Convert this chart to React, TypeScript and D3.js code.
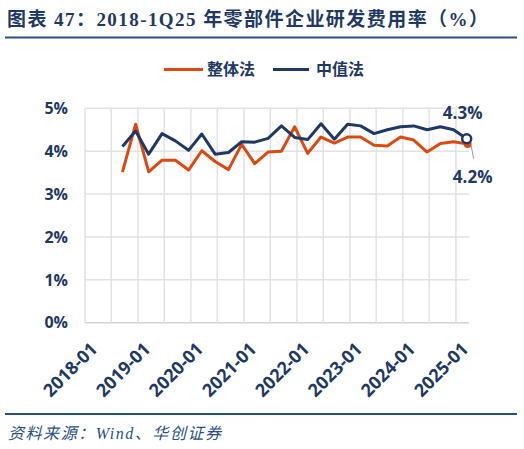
import React from 'react';
import * as d3 from 'd3';

// quarterly periods (month of quarter end)
const periods = [
  '2018-09', '2018-12',
  '2019-03', '2019-06', '2019-09', '2019-12',
  '2020-03', '2020-06', '2020-09', '2020-12',
  '2021-03', '2021-06', '2021-09', '2021-12',
  '2022-03', '2022-06', '2022-09', '2022-12',
  '2023-03', '2023-06', '2023-09', '2023-12',
  '2024-03', '2024-06', '2024-09', '2024-12',
  '2025-03',
];

// 整体法
const overall = [
  3.51, 4.63, 3.52, 3.79, 3.79, 3.56, 4.01, 3.76, 3.57, 4.16, 3.71, 3.98, 4.0, 4.57,
  3.95, 4.33, 4.19, 4.33, 4.33, 4.14, 4.12, 4.33, 4.26, 3.98, 4.18, 4.22, 4.17,
];

// 中值法
const median = [
  4.11, 4.47, 3.93, 4.41, 4.24, 4.02, 4.4, 3.93, 3.97, 4.22, 4.21, 4.3, 4.59, 4.32,
  4.27, 4.64, 4.28, 4.63, 4.59, 4.41, 4.5, 4.57, 4.59, 4.5, 4.57, 4.5, 4.29,
];

const yTicks = [0, 1, 2, 3, 4, 5];
const xLabels = ['2018-01', '2019-01', '2020-01', '2021-01', '2022-01', '2023-01', '2024-01', '2025-01'];

const W = 524;
const H = 449;
const NAVY = '#1f3864';
const ORANGE = '#dc4a12';
const GRID = '#e2e2e2';
const SANS = '"Open Sans", "Noto Sans CJK SC", sans-serif';
const CJK = '"Noto Sans CJK SC", sans-serif';

const parseMonth = d3.timeParse('%Y-%m');
// points sit in the middle of their month slot
const midMonth = (s: string) => {
  const d = parseMonth(s) as Date;
  return new Date(d.getFullYear(), d.getMonth(), 16);
};

const App: React.FC = () => {
  const margin = { left: 85, right: W - 469, top: 108.3, bottom: H - 322.7 };

  const x = d3
    .scaleTime()
    .domain([new Date(2018, 0, 1), new Date(2025, 3, 1)])
    .range([margin.left, W - margin.right]);

  const y = d3
    .scaleLinear()
    .domain([0, 5])
    .range([H - margin.bottom, margin.top]);

  const gridMonths = d3.timeMonth.every(6)!.range(new Date(2018, 0, 1), new Date(2025, 3, 1));

  const line = d3
    .line<number>()
    .x((_, i) => x(midMonth(periods[i])))
    .y(d => y(d));

  const lastX = x(midMonth(periods[periods.length - 1]));
  const lastMed = median[median.length - 1];
  const lastAll = overall[overall.length - 1];

  return (
    <div style={{ position: 'absolute', left: 0, top: 0 }}>
      <svg width={W} height={H} style={{ display: 'block', background: '#fff' }}>
        {/* Title */}
        <text
          x={7}
          y={26}
          fontFamily={'"Liberation Serif", "Noto Sans CJK SC", serif'}
          fontWeight="bold"
          fontSize={19}
          fill={NAVY}
          textLength={481}
          lengthAdjust="spacing"
        >
          图表 47：2018-1Q25 年零部件企业研发费用率（%）
        </text>
        <line x1={5} x2={517} y1={37.5} y2={37.5} stroke="#2a4f86" strokeWidth={2} />

        {/* Legend */}
        <g fontFamily={CJK} fontWeight="bold" fontSize={16} fill={NAVY}>
          <line x1={164} x2={203} y1={69.5} y2={69.5} stroke={ORANGE} strokeWidth={3} />
          <text x={207} y={69.5} dy="0.35em">整体法</text>
          <line x1={273} x2={309} y1={69.5} y2={69.5} stroke={NAVY} strokeWidth={3} />
          <text x={316} y={69.5} dy="0.35em">中值法</text>
        </g>

        {/* Grid */}
        {yTicks.map(t => (
          <line
            key={`h${t}`}
            x1={margin.left}
            x2={W - margin.right}
            y1={y(t)}
            y2={y(t)}
            stroke={t === 0 ? '#d4d4d4' : GRID}
            strokeWidth={1.5}
          />
        ))}
        {gridMonths.map((d, i) => (
          <line
            key={`v${i}`}
            x1={x(d)}
            x2={x(d)}
            y1={y(5)}
            y2={y(0)}
            stroke={GRID}
            strokeWidth={1.5}
          />
        ))}

        {/* Y labels */}
        <g fontFamily={SANS} fontWeight="bold" fontSize={16} fill={NAVY} textAnchor="end">
          {yTicks.map(t => (
            <text key={`yl${t}`} x={68} y={y(t)} dy="0.36em">
              {`${t}%`}
            </text>
          ))}
        </g>

        {/* X labels */}
        <g fontFamily={SANS} fontWeight="bold" fontSize={18} fill={NAVY} textAnchor="end">
          {xLabels.map(l => {
            const px = x(parseMonth(l) as Date) + 9;
            const py = y(0) + 23;
            return (
              <text key={l} transform={`translate(${px},${py}) rotate(-45)`} dy="0.35em">
                {l}
              </text>
            );
          })}
        </g>

        {/* Series */}
        <path d={line(overall) ?? ''} fill="none" stroke={ORANGE} strokeWidth={3} strokeLinejoin="round" />
        <path d={line(median) ?? ''} fill="none" stroke={NAVY} strokeWidth={3} strokeLinejoin="round" />

        {/* End markers and labels */}
        <circle cx={lastX + 1} cy={y(lastAll)} r={4} fill={ORANGE} />
        <circle cx={lastX} cy={y(lastMed)} r={4.5} fill="#fff" stroke={NAVY} strokeWidth={2.5} />
        <line x1={lastX + 4.5} y1={y(lastMed) + 7} x2={lastX + 7} y2={y(lastMed) + 20} stroke="#999" strokeWidth={1} />
        <g fontFamily={SANS} fontWeight="bold" fontSize={17} fill={NAVY} textAnchor="middle">
          <text x={lastX - 4} y={y(lastMed) - 26} dy="0.35em">{`${lastMed.toFixed(1)}%`}</text>
          <text x={lastX + 6} y={y(lastAll) + 33} dy="0.35em">{`${lastAll.toFixed(1)}%`}</text>
        </g>

        {/* Source */}
        <line x1={5} x2={517} y1={414} y2={414} stroke="#2a4f86" strokeWidth={2} />
        <text
          x={8}
          y={439}
          fontFamily={'"Liberation Serif", "Noto Sans CJK SC", serif'}
          fontStyle="italic"
          fontSize={16}
          fill="#2a4f86"
          textLength={213}
          lengthAdjust="spacing"
        >
          资料来源：Wind、华创证券
        </text>
      </svg>
    </div>
  );
};

export default App;
